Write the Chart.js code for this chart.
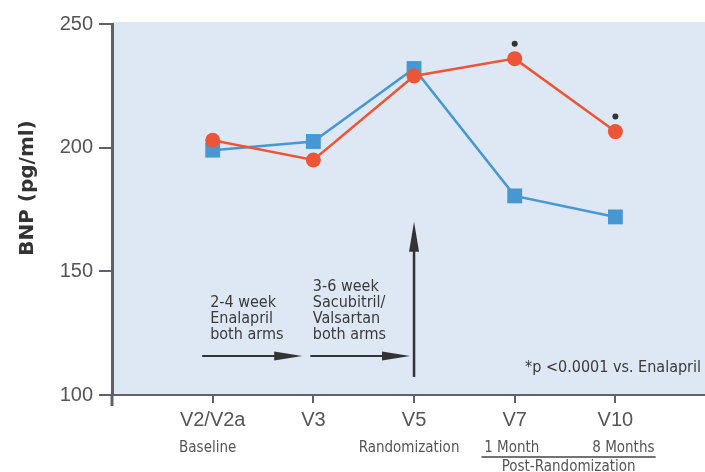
<!DOCTYPE html>
<html>
<head>
<meta charset="utf-8">
<script src="https://cdn.jsdelivr.net/npm/chart.js@4/dist/chart.umd.min.js"></script>
<style>
  html, body { margin: 0; padding: 0; background: #fff; }
  #wrap { width: 705px; height: 472px; position: relative; }
</style>
</head>
<body>
<div id="wrap"><canvas id="chart"></canvas></div>
<script>
const visits = ['V2/V2a', 'V3', 'V5', 'V7', 'V10'];
const visitPos = [1, 2, 3, 4, 5];
const subLabels = ['Baseline', '', 'Randomization', '1 Month', '8 Months'];
const sacVal = [203, 195, 229, 236, 206.5];      // red circles
const enalapril = [199, 202.5, 232, 180.5, 172]; // blue squares
const significant = [false, false, false, true, true];
const yTicks = [100, 150, 200, 250];

const RED = '#ec5637';
const BLUE = '#4797d2';
const AXIS = '#5f6368';
const TEXT = '#3a3a3a';
const NOTE_FONT = '"DejaVu Sans Condensed", "Liberation Sans Narrow", sans-serif';

const ctx = document.getElementById('chart').getContext('2d');

function arrowHead(c, x, y, dir, len, half) {
    // dir: 'right' or 'up'
    c.beginPath();
    if (dir === 'right') {
        c.moveTo(x, y);
        c.lineTo(x - len, y - half);
        c.lineTo(x - len, y + half);
    } else {
        c.moveTo(x, y);
        c.lineTo(x - half, y + len);
        c.lineTo(x + half, y + len);
    }
    c.closePath();
    c.fill();
}

const decorations = {
    id: 'decorations',
    beforeDraw(chart) {
        const { ctx: c, chartArea: a } = chart;
        c.save();
        c.fillStyle = '#dde8f4';
        c.fillRect(a.left, a.top - 2, a.right - a.left, a.bottom - a.top + 2);
        c.restore();
    },
    beforeDatasetsDraw(chart) {
        const c = chart.ctx;
        const xs = chart.scales.x, ys = chart.scales.y;
        const px = v => xs.getPixelForValue(v);
        const py = v => ys.getPixelForValue(v);
        c.save();
        c.strokeStyle = '#333';
        c.fillStyle = '#333';
        c.lineWidth = 2;

        // horizontal phase arrows
        const ay = py(115.8);
        [[0.895, 1.889], [1.97, 2.96]].forEach(([x0, x1]) => {
            c.beginPath();
            c.moveTo(px(x0), ay);
            c.lineTo(px(x1) - 20, ay);
            c.stroke();
            arrowHead(c, px(x1), ay, 'right', 28, 4.5);
        });

        // randomization arrow
        c.lineWidth = 2.5;
        c.beginPath();
        c.moveTo(px(3), py(107.3));
        c.lineTo(px(3), py(170) + 20);
        c.stroke();
        arrowHead(c, px(3), py(170), 'up', 30, 5);

        // phase texts
        c.fillStyle = TEXT;
        c.font = '16px ' + NOTE_FONT;
        c.textAlign = 'left';
        c.textBaseline = 'alphabetic';
        const t1 = ['2-4 week', 'Enalapril', 'both arms'];
        t1.forEach((s, i) => c.fillText(s, px(0.975), py(135.6) + i * 16));
        const t2 = ['3-6 week', 'Sacubitril/', 'Valsartan', 'both arms'];
        t2.forEach((s, i) => c.fillText(s, px(1.995), py(142) + i * 16));

        c.textAlign = 'right';
        c.fillText('*p <0.0001 vs. Enalapril', chart.chartArea.right - 4, py(109.3));
        c.restore();
    },
    afterDatasetsDraw(chart) {
        const c = chart.ctx;
        const meta = chart.getDatasetMeta(0);
        c.save();
        c.fillStyle = '#333';
        significant.forEach((s, i) => {
            if (!s) return;
            const p = meta.data[i];
            c.beginPath();
            c.arc(p.x, p.y - 15, 3, 0, Math.PI * 2);
            c.fill();
        });
        c.restore();
    },
    afterDraw(chart) {
        const c = chart.ctx;
        const a = chart.chartArea;
        const xs = chart.scales.x;
        c.save();
        // y axis runs slightly below the x axis
        c.strokeStyle = AXIS;
        c.lineWidth = 3;
        c.beginPath();
        c.moveTo(a.left, a.bottom);
        c.lineTo(a.left, a.bottom + 11);
        c.stroke();

        // y axis title
        c.fillStyle = '#333';
        c.font = 'bold 20px "DejaVu Sans", sans-serif';
        c.textAlign = 'center';
        c.textBaseline = 'middle';
        c.translate(28, 188);
        c.rotate(-Math.PI / 2);
        c.fillText('BNP (pg/ml)', 0, 0);
        c.restore();

        // sub labels under the visits
        c.save();
        c.fillStyle = '#555';
        c.font = '15px ' + NOTE_FONT;
        c.textAlign = 'center';
        c.textBaseline = 'alphabetic';
        subLabels.forEach((s, i) => {
            if (s) c.fillText(s, xs.getPixelForValue(visitPos[i]) + (i === 4 ? 8 : i === 3 ? -3 : -5), a.bottom + 57);
        });
        const l0 = xs.getPixelForValue(3.67), l1 = xs.getPixelForValue(5.4);
        c.strokeStyle = '#444';
        c.lineWidth = 1.5;
        c.beginPath();
        c.moveTo(l0, a.bottom + 62);
        c.lineTo(l1, a.bottom + 62);
        c.stroke();
        c.fillText('Post-Randomization', (l0 + l1) / 2, a.bottom + 76);
        c.restore();
    }
};

const toPoints = vals => vals.map((y, i) => ({ x: visitPos[i], y }));

new Chart(ctx, {
    type: 'line',
    data: {
        datasets: [
            {
                label: 'Sacubitril/Valsartan',
                data: toPoints(sacVal),
                borderColor: RED,
                backgroundColor: RED,
                borderWidth: 2.5,
                pointStyle: 'circle',
                pointRadius: 7.5,
                pointBorderWidth: 0,
                tension: 0,
            },
            {
                label: 'Enalapril',
                data: toPoints(enalapril),
                borderColor: BLUE,
                backgroundColor: BLUE,
                borderWidth: 2.5,
                pointStyle: 'rect',
                pointRadius: 10.5,
                pointBorderWidth: 0,
                tension: 0,
            },
        ],
    },
    options: {
        responsive: true,
        maintainAspectRatio: false,
        animation: false,
        layout: { autoPadding: false, padding: { top: 24, right: 0, left: 0, bottom: 0 } },
        plugins: {
            legend: { display: false },
            tooltip: { enabled: false },
        },
        scales: {
            x: {
                type: 'linear',
                min: 0,
                max: 5.89,
                afterBuildTicks: s => { s.ticks = visitPos.map(v => ({ value: v })); },
                afterFit: s => { s.height = 77; },
                border: { display: true, color: AXIS, width: 2 },
                grid: {
                    drawOnChartArea: false,
                    drawTicks: true,
                    tickLength: 8,
                    color: AXIS,
                    lineWidth: 2,
                },
                ticks: {
                    autoSkip: false,
                    maxRotation: 0,
                    padding: 5,
                    color: '#555',
                    font: { family: '"Liberation Sans", Arial, sans-serif', size: 20 },
                    callback: v => visits[visitPos.indexOf(v)],
                },
            },
            y: {
                min: 100,
                max: 250,
                afterBuildTicks: s => { s.ticks = yTicks.map(v => ({ value: v })); },
                afterFit: s => { s.width = 112; },
                border: { display: true, color: AXIS, width: 3 },
                grid: {
                    drawOnChartArea: false,
                    drawTicks: true,
                    tickLength: 13,
                    color: AXIS,
                    lineWidth: 2,
                },
                ticks: {
                    padding: 6,
                    color: '#555',
                    font: { family: '"Liberation Sans", Arial, sans-serif', size: 20 },
                },
            },
        },
    },
    plugins: [decorations],
});
</script>
</body>
</html>
